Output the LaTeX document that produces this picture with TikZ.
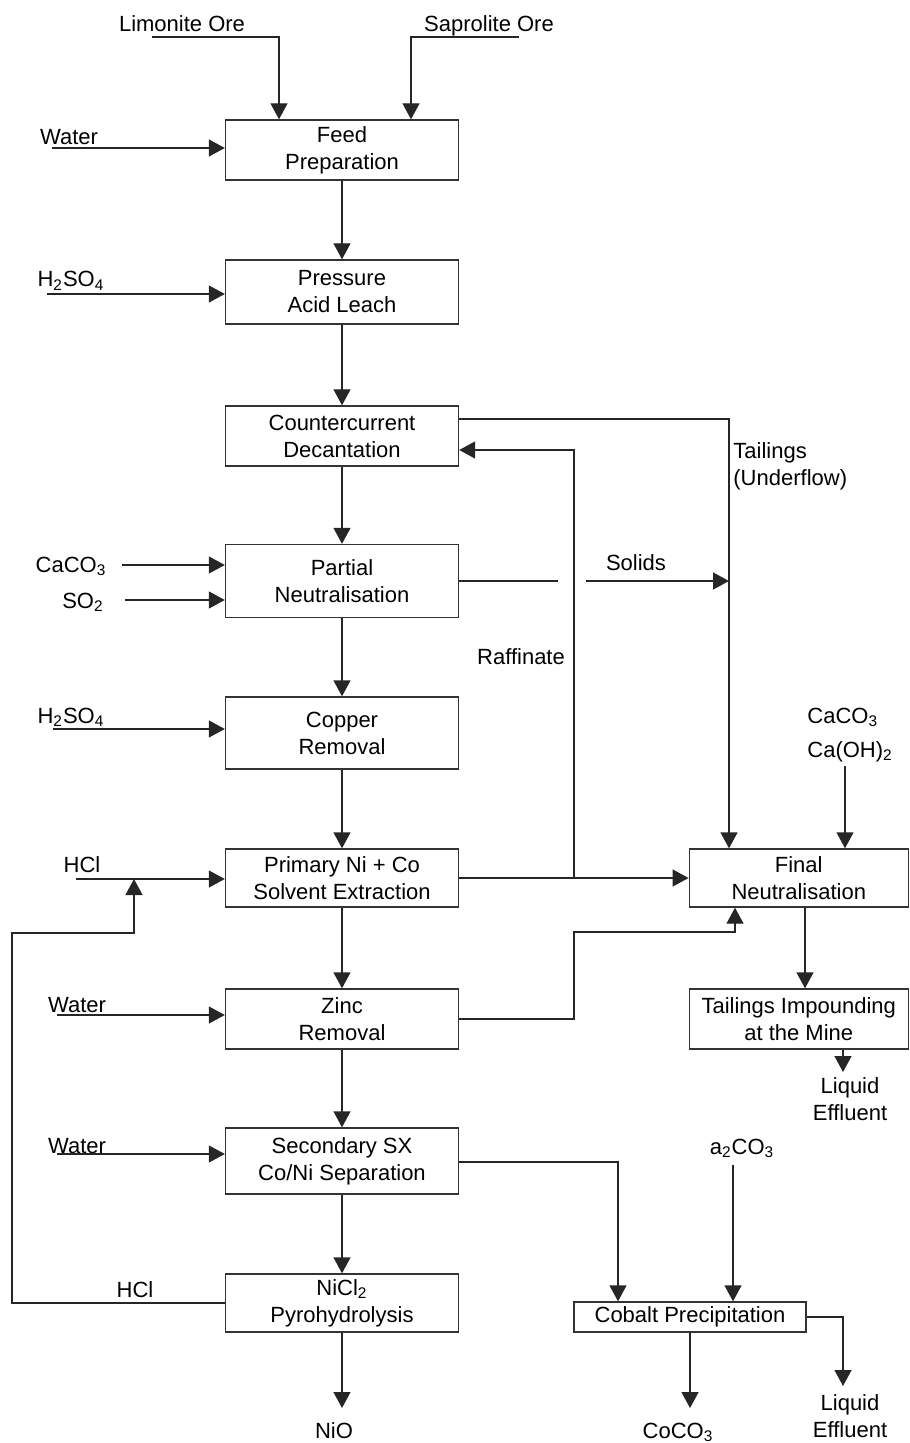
\documentclass[tikz,border=0pt]{standalone}
\usepackage{fontspec}
\setmainfont{Liberation Sans}
\usetikzlibrary{arrows.meta}
\newcommand{\chsub}[1]{\textsubscript{#1}}

\begin{document}
\begin{tikzpicture}[x=0.5pt,y=-0.5pt]
\tikzstyle{every node}=[font=\fontsize{11}{13.5}\selectfont,inner sep=0pt]
\tikzstyle{unit}=[draw=black!80,line width=0.7pt,minimum width=116.5pt,align=center]
\tikzstyle{lbl}=[anchor=base]
\tikzstyle{flow}=[line width=0.7pt,black!85]
\tikzstyle{arr}=[flow,arrows={-Triangle[length=8pt,width=8.5pt]}]
\useasboundingbox (0,0) rectangle (909,1443);

\node[unit,minimum height=30pt] (fp) at (342,150) {Feed\\Preparation};
\node[unit,minimum height=32pt] (pal) at (342,292) {Pressure\\Acid Leach};
\node[unit,minimum height=30pt] (ccd) at (342,436) {Countercurrent\\Decantation};
\node[unit,minimum height=36.5pt] (pn) at (342,581) {Partial\\Neutralisation};
\node[unit,minimum height=36pt] (cr) at (342,733) {Copper\\Removal};
\node[unit,minimum height=29pt] (psx) at (342,878) {Primary Ni + Co\\Solvent Extraction};
\node[unit,minimum height=30pt] (zr) at (342,1019) {Zinc\\Removal};
\node[unit,minimum height=33pt] (ssx) at (342,1161) {Secondary SX\\Co/Ni Separation};
\node[unit,minimum height=29pt] (pyro) at (342,1303) {NiCl\chsub{2}\\Pyrohydrolysis};
\node[unit,minimum height=29pt,minimum width=109.5pt] (fn) at (798.75,878) {Final\\Neutralisation};
\node[unit,minimum height=30pt,minimum width=109.5pt] (ti) at (798.75,1019) {Tailings Impounding\\at the Mine};
\node[unit,minimum height=15pt,minimum width=116pt] (cp) at (690,1317) {Cobalt Precipitation};

\node[lbl] (limo) at (182,32) {Limonite Ore};
\node[lbl] (sapr) at (489,32) {Saprolite Ore};
\node[lbl] (w1) at (69,145) {Water};
\node[lbl] (acid1) at (71,287) {H\chsub{2}SO\chsub{4}};
\node[lbl] (caco) at (71,572) {CaCO\chsub{3}};
\node[lbl] (so) at (83,608) {SO\chsub{2}};
\node[lbl] (acid2) at (71,723) {H\chsub{2}SO\chsub{4}};
\node[lbl] (hcl1) at (82,872) {HCl};
\node[lbl] (w2) at (77,1012) {Water};
\node[lbl] (w3) at (77,1153) {Water};
\node[lbl] (hcl2) at (135,1297) {HCl};
\node[lbl] (soda) at (742,1154) {a\chsub{2}CO\chsub{3}};
\node[lbl] (nio) at (334,1438) {NiO};
\node[lbl] (coco) at (678,1438) {CoCO\chsub{3}};
\node[align=center] (eff1) at (850,1099) {Liquid\\Effluent};
\node[align=center] (eff2) at (850,1416) {Liquid\\Effluent};
\node[align=left,anchor=west] (tail) at (733,466) {Tailings\\(Underflow)};
\node[lbl] (sol) at (636,570) {Solids};
\node[lbl] (raff) at (521,664) {Raffinate};
\node[anchor=base west] (lime1) at (807,723) {CaCO\chsub{3}};
\node[anchor=base west] (lime2) at (807,757) {Ca(OH)\chsub{2}};

\path[arr] (fp) edge (pal) (pal) edge (ccd) (ccd) edge (pn) (pn) edge (cr)
  (cr) edge (psx) (psx) edge (zr) (zr) edge (ssx) (ssx) edge (pyro);

\coordinate (lo) at (152,37); \coordinate (lk) at (279,37);
\draw[arr] (lo) -- (lk) -- (fp.north -| lk);
\coordinate (so1) at (519,37); \coordinate (sk) at (411,37);
\draw[arr] (so1) -- (sk) -- (fp.north -| sk);
\coordinate (wa) at (52,148);
\draw[arr] (wa) -- (fp.west |- wa);
\coordinate (ha) at (47,294);
\draw[arr] (ha) -- (pal.west |- ha);
\coordinate (ca1) at (122,565);
\draw[arr] (ca1) -- (pn.west |- ca1);
\coordinate (so2) at (125,600);
\draw[arr] (so2) -- (pn.west |- so2);
\coordinate (hb) at (53,729);
\draw[arr] (hb) -- (cr.west |- hb);
\coordinate (hc) at (76,879);
\draw[arr] (hc) -- (psx.west |- hc);
\coordinate (wb) at (57,1015);
\draw[arr] (wb) -- (zr.west |- wb);
\coordinate (wc) at (57,1154);
\draw[arr] (wc) -- (ssx.west |- wc);

\coordinate (tl) at (729,419);
\draw[arr] (ccd.east |- tl) -- (tl) -- (fn.north -| tl);
\coordinate (rf) at (574,450);
\draw[arr] (psx.east -| rf) -- (rf) -- (ccd.east |- rf);
\draw[arr] (psx) -- (fn);
\coordinate (sa) at (558,581); \coordinate (sb) at (586,581);
\draw[flow] (pn.east) -- (sa);
\draw[arr] (sb) -- (sb -| tl);
\coordinate (zk) at (574,932); \coordinate (zm) at (735,932);
\draw[arr] (zr.east) -- (zr.east -| zk) -- (zk) -- (zm) -- (fn.south -| zm);
\coordinate (lm) at (845,766);
\draw[arr] (lm) -- (fn.north -| lm);
\coordinate (ft) at (805,950);
\draw[arr] (fn.south -| ft) -- (ti.north -| ft);
\coordinate (te) at (843,1072);
\draw[arr] (ti.south -| te) -- (te);
\coordinate (rb) at (12,933); \coordinate (rc) at (134,933);
\draw[arr] (pyro.west) -- (pyro.west -| rb) -- (rb) -- (rc) -- (rc |- hc);
\coordinate (sc) at (618,1162);
\draw[arr] (ssx.east |- sc) -- (sc) -- (cp.north -| sc);
\coordinate (sd) at (733,1165);
\draw[arr] (sd) -- (cp.north -| sd);
\coordinate (ce) at (843,1386);
\draw[arr] (cp.east) -- (cp.east -| ce) -- (ce);
\coordinate (cc) at (690,1408);
\draw[arr] (cp.south -| cc) -- (cc);
\coordinate (nc) at (342,1408);
\draw[arr] (pyro.south) -- (nc);
\end{tikzpicture}
\end{document}
